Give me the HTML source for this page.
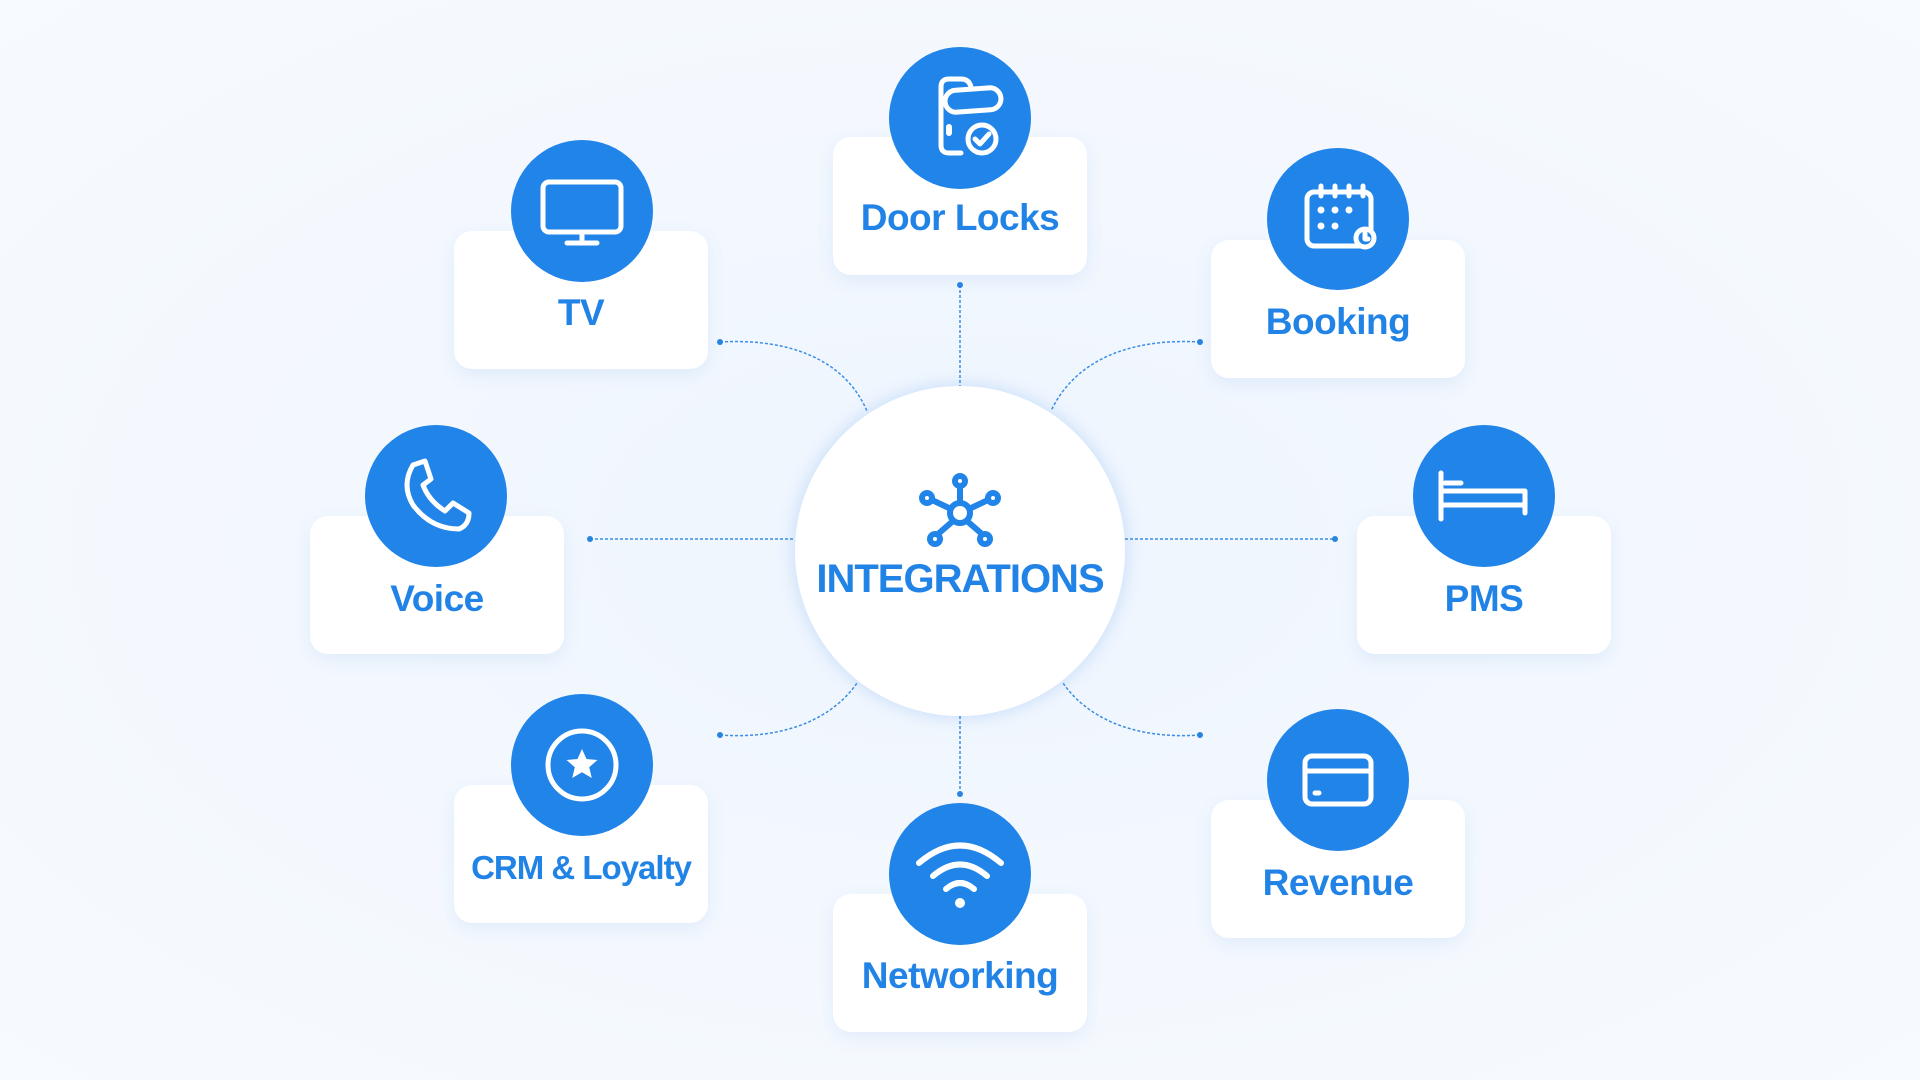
<!DOCTYPE html>
<html><head><meta charset="utf-8"><style>
html,body{margin:0;padding:0}
body{width:1920px;height:1080px;position:relative;overflow:hidden;font-family:"Liberation Sans",sans-serif;
background:radial-gradient(ellipse at 50% 50%,#eef5fe 0%,#f3f8fe 50%,#f7fafe 100%);}
.card{position:absolute;width:254px;height:138px;background:#fff;border-radius:18px;box-shadow:0 6px 18px rgba(60,130,220,0.10);}
.lbl{position:absolute;left:0;right:0;text-align:center;color:#2183e6;font-weight:bold;font-size:37px;letter-spacing:-0.5px;white-space:nowrap;}
.circ{position:absolute;width:142px;height:142px;border-radius:50%;background:#2184e8;}
.circ svg{position:absolute;left:0;top:0}
#center{position:absolute;left:795px;top:386px;width:330px;height:330px;border-radius:50%;background:#fff;box-shadow:0 0 18px rgba(60,140,230,0.25);}
</style></head><body>
<svg width="1920" height="1080" style="position:absolute;left:0;top:0" fill="none" stroke="#3a8ee6" stroke-width="1.5" stroke-dasharray="3 2">
<path d="M960 285 V386"/><path d="M960 716 V794"/>
<path d="M590 539 H795"/><path d="M1125 539 H1335"/>
<path d="M720 342 C790 338 845 360 867 411"/>
<path d="M1200 342 C1130 338 1075 360 1051 411"/>
<path d="M720 735 C790 740 835 715 857 683"/>
<path d="M1200 735 C1130 740 1085 715 1063 683"/>
<g fill="#2a84e0" stroke="none">
<circle cx="960" cy="285" r="3"/><circle cx="960" cy="794" r="3"/>
<circle cx="590" cy="539" r="3"/><circle cx="1335" cy="539" r="3"/>
<circle cx="720" cy="342" r="3"/><circle cx="1200" cy="342" r="3"/>
<circle cx="720" cy="735" r="3"/><circle cx="1200" cy="735" r="3"/></g>
</svg>

<div class="card" style="left:833px;top:137px"><div class="lbl" style="top:60px">Door Locks</div></div>
<div class="card" style="left:454px;top:231px"><div class="lbl" style="top:61px">TV</div></div>
<div class="card" style="left:1211px;top:240px"><div class="lbl" style="top:61px">Booking</div></div>
<div class="card" style="left:310px;top:516px"><div class="lbl" style="top:62px">Voice</div></div>
<div class="card" style="left:1357px;top:516px"><div class="lbl" style="top:62px">PMS</div></div>
<div class="card" style="left:454px;top:785px"><div class="lbl" style="top:64px;font-size:33px;letter-spacing:-1px">CRM &amp; Loyalty</div></div>
<div class="card" style="left:833px;top:894px"><div class="lbl" style="top:61px">Networking</div></div>
<div class="card" style="left:1211px;top:800px"><div class="lbl" style="top:62px">Revenue</div></div>

<div class="circ" style="left:889px;top:47px"><svg width="142" height="142" fill="none" stroke="#fff" stroke-width="5" stroke-linecap="round" stroke-linejoin="round">
<path d="M52 40 Q52 32 60 32 H72 Q80 32 82 40"/><path d="M52 40 V98 Q52 106 60 106 H72"/>
<rect x="56" y="42" width="56" height="22" rx="11" transform="rotate(-4 84 53)"/>
<circle cx="93" cy="92" r="14"/><path d="M86 92 l5 5 l9 -10"/><path d="M60 80 v6" stroke-width="6"/></svg></div>
<div class="circ" style="left:511px;top:140px"><svg width="142" height="142" fill="none" stroke="#fff" stroke-width="5" stroke-linecap="round" stroke-linejoin="round">
<rect x="32" y="42" width="78" height="50" rx="6"/><path d="M71 92 v10 M56 103 h30"/></svg></div>
<div class="circ" style="left:1267px;top:148px"><svg width="142" height="142" fill="none" stroke="#fff" stroke-width="5" stroke-linecap="round" stroke-linejoin="round">
<rect x="40" y="44" width="64" height="54" rx="7"/><path d="M54 38 v10 M68 38 v10 M82 38 v10 M96 38 v10"/>
<g fill="#fff" stroke="none"><circle cx="54" cy="62" r="3.5"/><circle cx="68" cy="62" r="3.5"/><circle cx="82" cy="62" r="3.5"/><circle cx="54" cy="78" r="3.5"/><circle cx="68" cy="78" r="3.5"/></g>
<circle cx="98" cy="90" r="9" fill="#2184e8"/><path d="M98 85 v6 h3"/></svg></div>
<div class="circ" style="left:365px;top:425px"><svg width="142" height="142" fill="none" stroke="#fff" stroke-width="5" stroke-linecap="round" stroke-linejoin="round">
<path d="M48 40 L60 36 L66 54 L58 60 Q64 76 80 86 L88 78 L104 88 Q104 100 94 104 Q66 104 48 80 Q36 60 48 40 Z"/></svg></div>
<div class="circ" style="left:1413px;top:425px"><svg width="142" height="142" fill="none" stroke="#fff" stroke-width="5" stroke-linecap="round" stroke-linejoin="round">
<path d="M28 48 V94 M28 66 H112 V88 M28 80 H112 M32 58 H48"/></svg></div>
<div class="circ" style="left:511px;top:694px"><svg width="142" height="142" fill="none" stroke="#fff" stroke-width="5">
<circle cx="71" cy="71" r="34"/><path fill="#fff" stroke="none" d="M71 55 l4.5 10 l11 1 l-8.3 7.2 l2.6 10.8 l-9.8 -5.8 l-9.8 5.8 l2.6 -10.8 l-8.3 -7.2 l11 -1z"/></svg></div>
<div class="circ" style="left:889px;top:803px"><svg width="142" height="142" fill="none" stroke="#fff" stroke-width="6" stroke-linecap="round">
<path d="M30 60 Q71 25 112 60"/><path d="M44 73 Q71 50 98 73"/><path d="M57 86 Q71 74 85 86"/><circle cx="71" cy="100" r="5" fill="#fff" stroke="none"/></svg></div>
<div class="circ" style="left:1267px;top:709px"><svg width="142" height="142" fill="none" stroke="#fff" stroke-width="5" stroke-linecap="round">
<rect x="38" y="47" width="66" height="48" rx="7"/><path d="M38 62 H104 M48 84 h4"/></svg></div>

<div id="center">
<svg width="90" height="80" style="position:absolute;left:120px;top:85px" fill="none" stroke="#2184e8" stroke-width="6">
<circle cx="45" cy="42" r="10"/><circle cx="45" cy="10" r="5"/><circle cx="12" cy="27" r="5"/><circle cx="78" cy="27" r="5"/><circle cx="20" cy="68" r="5"/><circle cx="70" cy="68" r="5"/>
<path d="M45 15 V32 M17 29 L36 38 M73 29 L54 38 M23 63 L38 50 M67 63 L52 50"/></svg>
<div style="position:absolute;left:0;right:0;top:171px;text-align:center;color:#2183e6;font-weight:bold;font-size:40px;letter-spacing:-1px">INTEGRATIONS</div>
</div>
</body></html>
